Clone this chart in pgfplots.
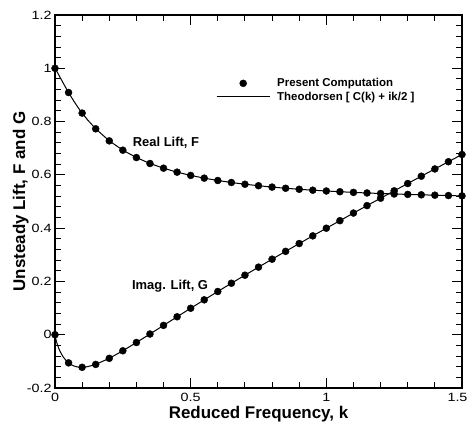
\documentclass[border=0pt]{standalone}
\usepackage{fontspec}
\setmainfont{Liberation Sans}
\newfontfamily\tickfont[FakeStretch=1.2]{Liberation Sans}
\usepackage{pgfplots}
\pgfplotsset{compat=1.18}
\usepackage{pgfplotstable}

\pgfplotsset{
  markleg/.style={legend image code/.code={\draw[##1, mark repeat=2, mark phase=2] plot coordinates {(0bp,0bp) (26.5bp,0bp) (53bp,0bp)};}},
  lineleg/.style={legend image code/.code={\draw[##1] (0bp,0bp) -- (53bp,0bp);}},
}

\pgfplotstableread{
k F G
0.00 1.0000 0.0000
0.05 0.9090 -0.1056
0.10 0.8319 -0.1223
0.15 0.7728 -0.1115
0.20 0.7276 -0.0886
0.25 0.6926 -0.0603
0.30 0.6650 -0.0293
0.35 0.6426 0.0026
0.40 0.6250 0.0350
0.45 0.6101 0.0673
0.50 0.5979 0.0993
0.55 0.5877 0.1309
0.60 0.5788 0.1622
0.65 0.5713 0.1932
0.70 0.5648 0.2234
0.75 0.5593 0.2536
0.80 0.5541 0.2835
0.85 0.5497 0.3129
0.90 0.5459 0.3422
0.95 0.5424 0.3710
1.00 0.5394 0.3997
1.05 0.5367 0.4280
1.10 0.5342 0.4566
1.15 0.5320 0.4846
1.20 0.5300 0.5123
1.25 0.5282 0.5400
1.30 0.5266 0.5675
1.35 0.5251 0.5949
1.40 0.5237 0.6222
1.45 0.5223 0.6493
1.50 0.5210 0.6764
}\markdata

\pgfplotstableread{
k F G
0.0000 1.0000 0.0000
0.0010 0.9984 -0.0065
0.0025 0.9959 -0.0139
0.0050 0.9915 -0.0241
0.0100 0.9824 -0.0407
0.0150 0.9731 -0.0540
0.0200 0.9637 -0.0652
0.0300 0.9451 -0.0830
0.0400 0.9267 -0.0960
0.0500 0.9090 -0.1056
0.0600 0.8920 -0.1126
0.0700 0.8759 -0.1174
0.0800 0.8604 -0.1204
0.0900 0.8457 -0.1220
0.1000 0.8319 -0.1223
0.1200 0.8064 -0.1200
0.1500 0.7728 -0.1115
0.2000 0.7276 -0.0886
0.2500 0.6926 -0.0603
0.3000 0.6650 -0.0293
0.3500 0.6426 0.0026
0.4000 0.6250 0.0350
0.4500 0.6101 0.0673
0.5000 0.5979 0.0993
0.5500 0.5877 0.1309
0.6000 0.5788 0.1622
0.6500 0.5713 0.1932
0.7000 0.5648 0.2234
0.7500 0.5593 0.2536
0.8000 0.5541 0.2835
0.8500 0.5497 0.3129
0.9000 0.5459 0.3422
0.9500 0.5424 0.3710
1.0000 0.5394 0.3997
1.0500 0.5367 0.4280
1.1000 0.5342 0.4566
1.1500 0.5320 0.4846
1.2000 0.5300 0.5123
1.2500 0.5282 0.5400
1.3000 0.5266 0.5675
1.3500 0.5251 0.5949
1.4000 0.5237 0.6222
1.4500 0.5223 0.6493
1.5000 0.5210 0.6764
}\linedata

\begin{document}
\begin{tikzpicture}
\begin{axis}[
  at={(0,0)}, anchor=south west,
  scale only axis, width=407bp, height=373bp,
  xmin=0, xmax=1.5, ymin=-0.2, ymax=1.2,
  xtick={0,0.5,1,1.5},
  xticklabels={0,0.5,1,{1.5\hspace*{9bp}}},
  ytick={-0.2,0,0.2,0.4,0.6,0.8,1,1.2},
  minor x tick num=4, minor y tick num=4,
  major tick length=10bp, minor tick length=6bp,
  tick align=inside,
  every tick/.style={black, line width=0.9bp},
  axis line style={line width=1.6bp},
  tick label style={font=\tickfont\fontsize{12}{14}\selectfont},
  xticklabel style={yshift=-2bp},
  /pgf/number format/assume math mode=true,
  xlabel={Reduced Frequency, k},
  ylabel={Unsteady Lift, F and G},
  label style={font=\bfseries\fontsize{17}{20}\selectfont},
  xlabel style={at={([yshift=-30bp]axis description cs:0.5,0)}, anchor=base},
  ylabel style={at={([xshift=-30bp]axis description cs:0,0.5)}, anchor=base},
  legend cell align=left,
  legend style={draw=none, fill=none, inner sep=0pt,
    at={(rel axis cs:0.3956,0.799)}, anchor=west,
    font=\bfseries\fontsize{11.5}{13}\selectfont,
    nodes={inner sep=1bp}, column sep=6bp, row sep=1.5bp},
]
\addplot[only marks, mark=*, mark size=3.5bp, black, markleg]
  table[x=k, y=F] {\markdata};
\addlegendentry{Present Computation}
\addplot[black, line width=1bp, lineleg]
  table[x=k, y=F] {\linedata};
\addlegendentry{Theodorsen [ C(k) + ik/2 ]}
\addplot[black, line width=1bp, forget plot] table[x=k, y=G] {\linedata};
\addplot[only marks, mark=*, mark size=3.5bp, black, forget plot] table[x=k, y=G] {\markdata};
\node[font=\bfseries\fontsize{13}{15}\selectfont] at (axis cs:0.409,0.72) {Real Lift, F};
\node[font=\bfseries\fontsize{13}{15}\selectfont] at (axis cs:0.424,0.183) {Imag. Lift, G};
\end{axis}
\pgfresetboundingbox
\useasboundingbox (-55bp,-35bp) rectangle (414bp,388bp);
\end{tikzpicture}
\end{document}
